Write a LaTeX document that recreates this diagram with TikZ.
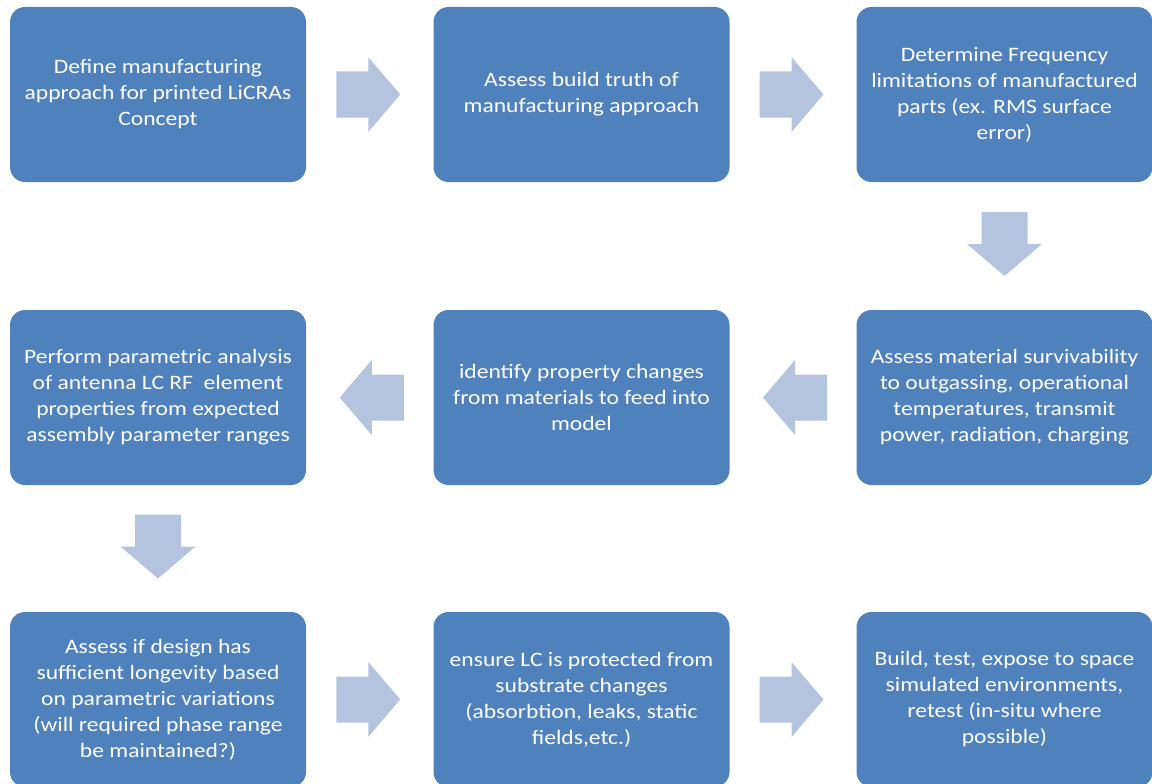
\documentclass[tikz,border=0pt]{standalone}
\usepackage{fontspec}
\setmainfont{Carlito}[FakeStretch=1.15]
\usetikzlibrary{calc}
\definecolor{boxblue}{HTML}{4F81BD}
\definecolor{arrowblue}{HTML}{B4C3DE}
\begin{document}
\begin{tikzpicture}[x=1pt,y=-1pt,
  stepbox/.style={draw=none,fill=boxblue,rounded corners=15pt,minimum width=296pt,minimum height=175pt,
    text=white,align=center,font=\fontsize{20.5pt}{26pt}\selectfont,inner sep=0pt},
  blockarrow/.pic={\fill[arrowblue] (-32,-23) -- (0,-23) -- (0,-37.5) -- (32,0) -- (0,37.5) -- (0,23) -- (-32,23) -- cycle;}
]
\useasboundingbox (0,0) rectangle (1152,784);
\clip (0,0) rectangle (1152,784);
\node[stepbox] (b1) at (158,94.5) {Define manufacturing\\approach for printed LiCRAs\\Concept};
\node[stepbox] (b2) at (581.5,94.5) {Assess build truth of\\manufacturing approach};
\node[stepbox] (b3) at (1004.5,94.5) {Determine Frequency\\limitations of manufactured\\parts (ex. RMS surface\\error)};
\node[stepbox] (b4) at (1004.5,397.5) {Assess material survivability\\to outgassing, operational\\temperatures, transmit\\power, radiation, charging};
\node[stepbox] (b5) at (581.5,397.5) {identify property changes\\from materials to feed into\\model};
\node[stepbox] (b6) at (158,397.5) {Perform parametric analysis\\of antenna LC RF\ \ element\\properties from expected\\assembly parameter ranges};
\node[stepbox] (b7) at (158,699.5) {Assess if design has\\sufficient longevity based\\on parametric variations\\(will required phase range\\be maintained?)};
\node[stepbox] (b8) at (581.5,699.5) {ensure LC is protected from\\substrate changes\\(absorbtion, leaks, static\\fields,etc.)};
\node[stepbox] (b9) at (1004.5,699.5) {Build, test, expose to space\\simulated environments,\\retest (in-situ where\\possible)};
\pic at ($(b1.east)!0.5!(b2.west)+(-1.5,0)$) {blockarrow};
\pic at ($(b2.east)!0.5!(b3.west)+(-1.5,0)$) {blockarrow};
\pic[rotate=-90] at ($(b3.south)!0.5!(b4.north)+(0,-2)$) {blockarrow};
\pic[rotate=180] at ($(b4.west)!0.5!(b5.east)+(2,0)$) {blockarrow};
\pic[rotate=180] at ($(b5.west)!0.5!(b6.east)+(2,0)$) {blockarrow};
\pic[rotate=-90] at ($(b6.south)!0.5!(b7.north)+(0,-2)$) {blockarrow};
\pic at ($(b7.east)!0.5!(b8.west)+(-1.5,0)$) {blockarrow};
\pic at ($(b8.east)!0.5!(b9.west)+(-1.5,0)$) {blockarrow};
\end{tikzpicture}
\end{document}
